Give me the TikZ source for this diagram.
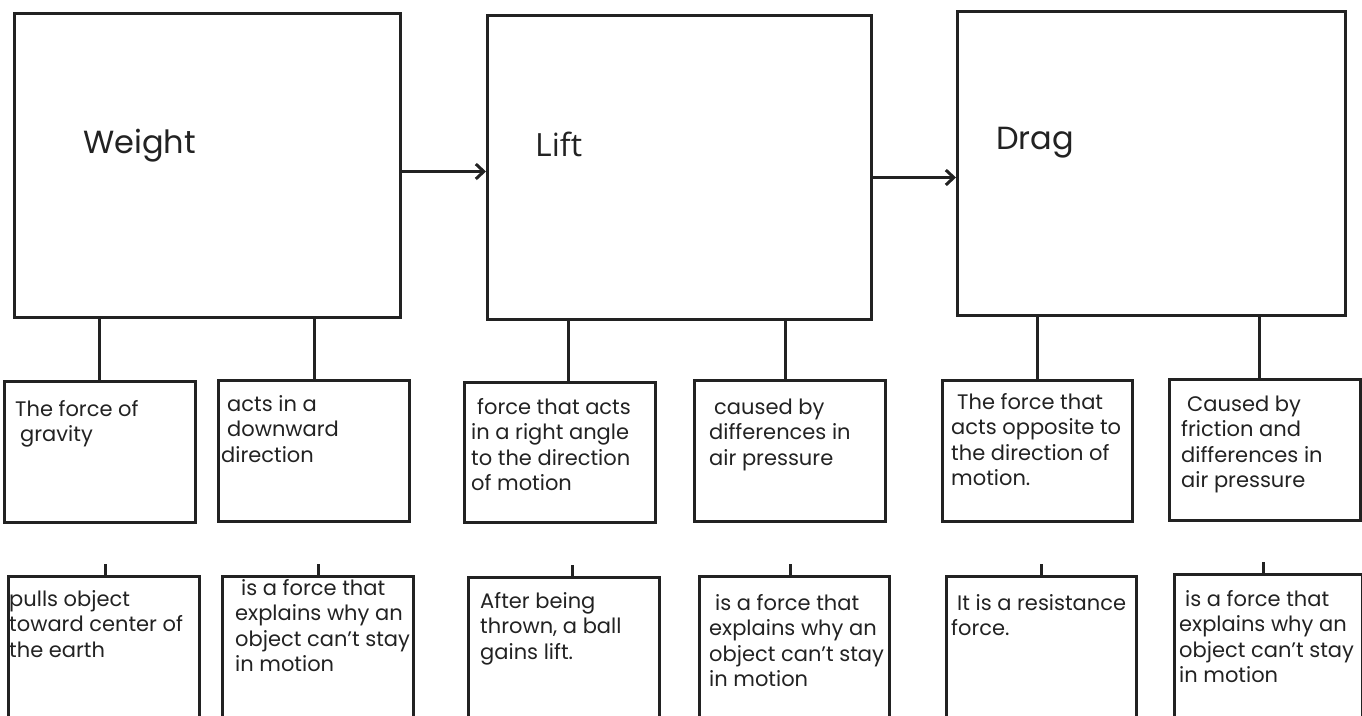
\documentclass[tikz,border=0pt]{standalone}
\usepackage{fontspec}
\setmainfont{Poppins}
\newfontfamily\liftfont{Open Sans}
\usepackage{xcolor}
\usetikzlibrary{calc, arrows.meta}
\definecolor{ink}{RGB}{34,34,34}
\tikzset{
  bigbox/.style={draw=ink, line width=3pt, anchor=north west, inner sep=0pt},
  smallbox/.style={draw=ink, line width=3pt, anchor=north west, inner sep=0pt,
    minimum width=191pt, minimum height=141pt},
  title/.style={anchor=base west, inner sep=0pt, text=ink, font=\fontsize{32}{36}\selectfont},
  txt/.style={anchor=base west, align=left, inner sep=0pt, text=ink,
    font=\fontsize{21}{25.5}\selectfont},
  link/.style={draw=ink, line width=3pt},
  >={Straight Barb[length=8pt,width=15pt]}
}
\begin{document}
\begin{tikzpicture}[x=1pt, y=-1pt]

  \useasboundingbox (0,0) rectangle (1362,715);
  \clip (0,0) rectangle (1362,715);

  % the three forces
  \node[bigbox, minimum width=386pt, minimum height=304pt] (W) at (13,12) {};
  \node[bigbox, minimum width=384pt, minimum height=304pt] (L) at (486,14) {};
  \node[bigbox, minimum width=388pt, minimum height=304pt] (D) at (956,10) {};

  \node[title] (Wt) at (83,153) {Weight};
  \node[title, font=\liftfont\fontsize{32}{36}\selectfont] (Lt) at (535,156) {Lift};
  \node[title] (Dt) at (996,149) {Drag};

  \draw[link, ->] ([yshift=-6pt]W.east) -- ([yshift=-6pt]W.east -| L.west);
  \draw[link, ->] ([yshift=-10pt]L.east) -- ([yshift=-10pt]L.east -| D.west);

  % first row of boxes
  \node[smallbox, minimum width=191.5pt] (A1) at (2.5,380) {};
  \node[smallbox] (A2) at (217,379) {};
  \node[smallbox, minimum height=140pt] (L1) at (463,381) {};
  \node[smallbox] (L2) at (693,379) {};
  \node[smallbox, minimum width=190pt] (D1) at (941,379) {};
  \node[smallbox] (D2) at (1168,378) {};

  \foreach \up/\sub/\s in {W/A1/0, W/A2/0, L/L1/8.5, L/L2/-4.5, D/D1/0, D/D2/-5.5}
    \draw[link] ([xshift=\s pt]\sub.north) -- ([xshift=\s pt]\sub.north |- \up.south);

  % second row of boxes
  \node[smallbox, minimum height=142pt] (B1) at (7,575) {};
  \node[smallbox, minimum height=142pt] (B2) at (221,575) {};
  \node[smallbox, minimum height=141pt] (L3) at (467,576) {};
  \node[smallbox, minimum width=190pt, minimum height=142pt] (L4) at (698,575) {};
  \node[smallbox, minimum width=190pt, minimum height=142pt] (D3) at (945,575) {};
  \node[smallbox, minimum width=188pt, minimum height=144pt] (D4) at (1173,573) {};

  \foreach \sub/\s in {B1/1.5, B2/0, L3/8.5, L4/-4, D3/0, D4/-5}
    \draw[link] ([xshift=\s pt]\sub.north) -- ++(0,-11);

  % texts (placed at the baseline of their last line)
  \node[txt] (A1t) at (15,441.5) {The force of\\\hspace*{5pt}gravity};
  \node[txt] (A2t) at (221,462) {\hspace*{6pt}acts in a\\\hspace*{6pt}downward\\direction};
  \node[txt] (L1t) at (471,490.5) {\hspace*{6pt}force that acts\\in a right angle\\to the direction\\of motion};
  \node[txt] (L2t) at (709,465) {\hspace*{5pt}caused by\\differences in\\air pressure};
  \node[txt] (D1t) at (951,485.5) {\hspace*{6pt}The force that\\acts opposite to\\the direction of\\motion.};
  \node[txt] (D2t) at (1181,487.5) {\hspace*{6pt}Caused by\\friction and\\differences in\\air pressure};

  \node[txt] (B1t) at (9,657) {pulls object\\toward center of\\the earth};
  \node[txt] (B2t) at (235,671.5) {\hspace*{6pt}is a force that\\explains why an\\object can’t stay\\in motion};
  \node[txt] (L3t) at (480,659) {After being\\thrown, a ball\\gains lift.};
  \node[txt] (L4t) at (709,686.5) {\hspace*{6pt}is a force that\\explains why an\\object can’t stay\\in motion};
  \node[txt] (D3t) at (951,635.5) {\hspace*{6pt}It is a resistance\\force.};
  \node[txt] (D4t) at (1179,682.5) {\hspace*{6pt}is a force that\\explains why an\\object can’t stay\\in motion};

\end{tikzpicture}
\end{document}
